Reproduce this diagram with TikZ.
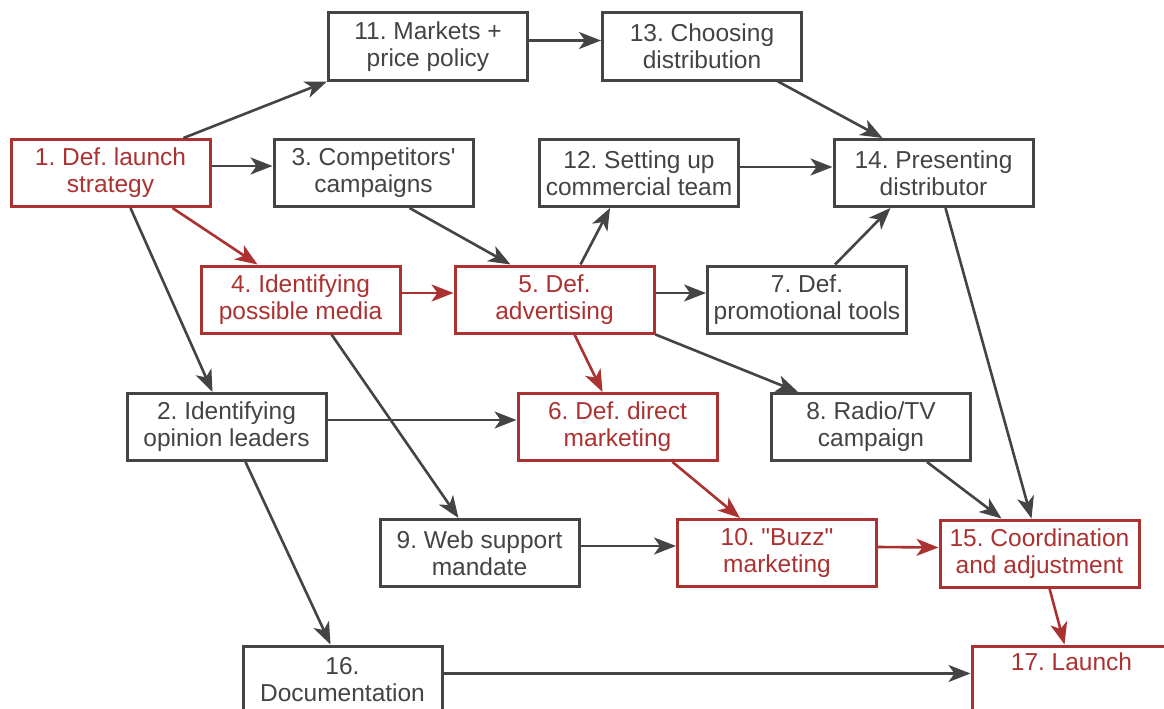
\documentclass[tikz,border=0pt]{standalone}
\usepackage{fontspec}
\setmainfont{Liberation Sans}
\usetikzlibrary{arrows.meta}
\definecolor{taskgray}{RGB}{68,68,68}
\definecolor{taskred}{RGB}{172,50,50}
\frenchspacing
\begin{document}
\begin{tikzpicture}[x=1pt,y=-1pt,
			squaregray/.style={rectangle, draw=taskgray, text=taskgray, fill=white, line width=3pt, minimum width=199pt, minimum height=67pt, inner sep=0pt, align=center, font=\fontsize{24.5}{27}\selectfont},
			squarered/.style={squaregray, draw=taskred, text=taskred},
			arrowgray/.style={draw=taskgray, line width=2.6pt, -{Stealth[length=22pt, width=17pt, inset=6pt]}},
			arrowred/.style={arrowgray, draw=taskred, fill=taskred},
			]
\useasboundingbox[fill=white] (0,0) rectangle (1164,709);

\node[squarered] (t1) at (110.5,173) {1. Def. launch\\strategy};
\node[squaregray] (t11) at (428,46.5) {11. Markets +\\price policy};
\node[squaregray] (t13) at (702,46.5) {13. Choosing\\distribution};
\node[squaregray] (t3) at (373.5,173) {3. Competitors\textquotesingle\\campaigns};
\node[squaregray] (t12) at (639,173) {12. Setting up\\commercial team};
\node[squaregray] (t14) at (933.5,173) {14. Presenting\\distributor};
\node[squarered] (t4) at (300.5,299.5) {4. Identifying\\possible media};
\node[squarered] (t5) at (554.5,299.5) {5. Def.\\advertising};
\node[squaregray] (t7) at (807,299.5) {7. Def.\\promotional tools};
\node[squaregray] (t2) at (226.5,427) {2. Identifying\\opinion leaders};
\node[squarered] (t6) at (617.5,427) {6. Def. direct\\marketing};
\node[squaregray] (t8) at (871,427) {8. Radio/TV\\campaign};
\node[squaregray] (t9) at (479.5,553) {9. Web support\\mandate};
\node[squarered] (t10) at (777,553) {10. \textquotedbl Buzz\textquotedbl\\marketing};
\node[squarered] (t15) at (1039.5,553.5) {15. Coordination\\and adjustment};
\node[squaregray] (t16) at (342.5,679.5) {16.\\Documentation};
\node[squarered] (t17) at (1071.5,679.5) {17. Launch\\\strut};

\draw[arrowgray] ([xshift=73pt]t1.north) -- (t11.south west);
\draw[arrowgray] ([yshift=7pt]t1.east) -- ([yshift=7pt]t3.west);
\draw[arrowred] ([xshift=62pt]t1.south) -- ([xshift=-43pt]t4.north);
\draw[arrowgray] ([xshift=20pt]t1.south) -- ([xshift=-14pt]t2.north);
\draw[arrowgray] ([yshift=6pt]t11.east) -- ([yshift=6pt]t13.west);
\draw[arrowgray] ([xshift=76pt]t13.south) -- ([xshift=-51pt]t14.north);
\draw[arrowgray] ([xshift=36pt]t3.south) -- ([xshift=-44pt]t5.north);
\draw[arrowgray] ([xshift=26pt]t5.north) -- ([xshift=-29pt]t12.south);
\draw[arrowgray] ([yshift=6pt]t12.east) -- ([yshift=6pt]t14.west);
\draw[arrowred] ([yshift=6.5pt]t4.east) -- ([yshift=6.5pt]t5.west);
\draw[arrowgray] ([yshift=6.5pt]t5.east) -- ([yshift=6.5pt]t7.west);
\draw[arrowgray] ([xshift=28pt]t7.north) -- ([xshift=-43pt]t14.south);
\draw[arrowred] ([xshift=20pt]t5.south) -- ([xshift=-15pt]t6.north);
\draw[arrowgray] (t5.south east) -- ([xshift=-73pt]t8.north);
\draw[arrowgray] ([xshift=31pt]t4.south) -- ([xshift=-21pt]t9.north);
\draw[arrowgray] ([yshift=7pt]t2.east) -- ([yshift=7pt]t6.west);
\draw[arrowgray] ([xshift=19pt]t2.south) -- ([xshift=-12pt]t16.north);
\draw[arrowred] ([xshift=55pt]t6.south) -- ([xshift=-37pt]t10.north);
\draw[arrowgray] ([xshift=56pt]t8.south) -- ([xshift=-38pt]t15.north);
\draw[arrowgray] ([xshift=12pt]t14.south) -- ([xshift=-8pt]t15.north);
\draw[arrowgray] ([yshift=7pt]t9.east) -- ([yshift=7pt]t10.west);
\draw[arrowred] ([yshift=6pt]t10.east) -- ([yshift=6pt]t15.west);
\draw[arrowred] ([xshift=10pt]t15.south) -- ([xshift=-7pt]t17.north);
\draw[arrowgray] ([yshift=6pt]t16.east) -- ([yshift=6pt]t17.west);

\end{tikzpicture}
\end{document}
